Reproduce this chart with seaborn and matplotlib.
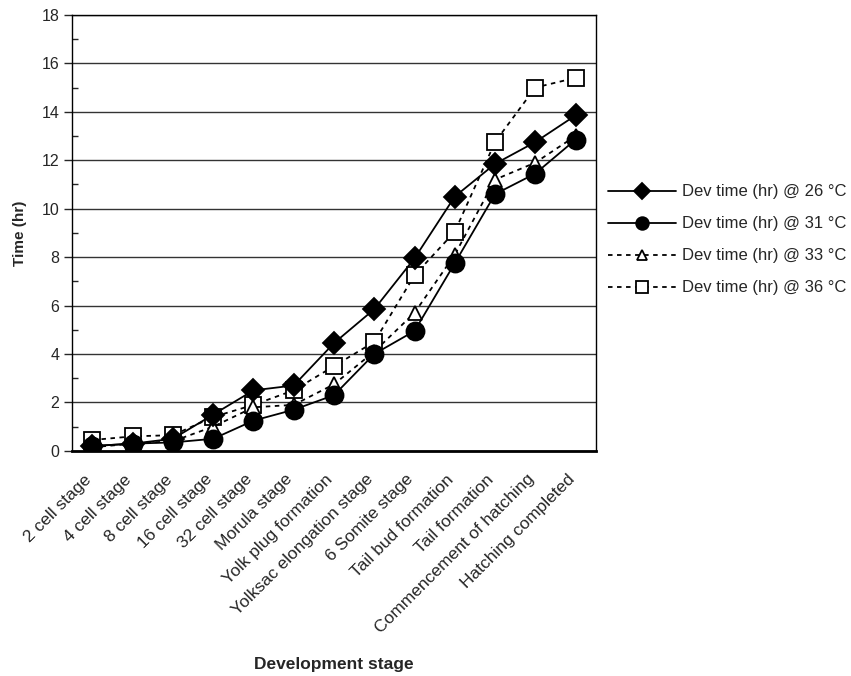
import numpy as np
import pandas as pd
import matplotlib
matplotlib.use("Agg")
import matplotlib.pyplot as plt
import seaborn as sns

stages = ['2 cell stage', '4 cell stage', '8 cell stage', '16 cell stage', '32 cell stage',
          'Morula stage', 'Yolk plug formation', 'Yolksac elongation stage', '6 Somite stage',
          'Tail bud formation', 'Tail formation', 'Commencement of hatching', 'Hatching completed']

t26 = [0.2, 0.3, 0.5, 1.5, 2.5, 2.7, 4.45, 5.85, 7.95, 10.5, 11.85, 12.75, 13.85]
t31 = [0.2, 0.3, 0.35, 0.5, 1.25, 1.7, 2.3, 4.0, 4.95, 7.75, 10.6, 11.45, 12.85]
t33 = [0.15, 0.3, 0.4, 1.0, 1.8, 1.9, 2.75, 4.1, 5.7, 8.1, 11.2, 11.9, 13.0]
t36 = [0.45, 0.6, 0.65, 1.4, 1.9, 2.5, 3.5, 4.5, 7.25, 9.05, 12.75, 15.0, 15.4]

names = ['Dev time (hr) @ 26 °C', 'Dev time (hr) @ 31 °C',
         'Dev time (hr) @ 33 °C', 'Dev time (hr) @ 36 °C']

df = pd.DataFrame({'pos': list(range(len(stages))) * 4,
                   'time': t26 + t31 + t33 + t36,
                   'series': np.repeat(names, len(stages))})

sns.set_style('white')
plt.rcParams['font.family'] = ['Liberation Sans', 'DejaVu Sans']

fig = plt.figure(figsize=(8.51, 6.76), dpi=100)
ax = fig.add_axes([0.085, 0.333, 0.615, 0.645])

# circles on top, then diamonds, open markers behind
styles = {
    names[0]: dict(marker='D', ls='-', ms=11, mfc='black', z=7),
    names[1]: dict(marker='o', ls='-', ms=13, mfc='black', z=8),
    names[2]: dict(marker='^', ls=(0, (2.5, 2.5)), ms=10.5, mfc='white', z=6),
    names[3]: dict(marker='s', ls=(0, (2.5, 2.5)), ms=12, mfc='white', z=5),
}

for name in names:
    st = styles[name]
    sub = df[df.series == name]
    sns.lineplot(data=sub, x='pos', y='time', ax=ax, color='black', lw=1.3,
                 marker=st['marker'], markersize=st['ms'], markerfacecolor=st['mfc'],
                 markeredgecolor='black', markeredgewidth=1.3, linestyle=st['ls'],
                 label=name, sort=False, zorder=st['z'])

ax.set_xlim(-0.5, len(stages) - 0.5)
ax.set_ylim(0, 18)
ax.set_yticks(np.arange(0, 19, 2))
ax.set_yticks(np.arange(1, 18, 2), minor=True)
ax.yaxis.grid(True, which='major', color='#333333', lw=1.0)
ax.set_axisbelow(True)

ax.set_xticks(np.arange(-0.5, len(stages), 1))
ax.set_xticklabels([])
# labels sit a bit left of the category centre, like the original
ax.set_xticks(np.arange(len(stages)) - 0.22, minor=True)
ax.set_xticklabels(stages, minor=True, rotation=45, ha='right', rotation_mode='anchor', fontsize=12.5)
ax.tick_params(axis='x', which='minor', length=0, pad=15)
ax.tick_params(axis='x', which='major', length=5, direction='out', width=1)
ax.tick_params(axis='y', which='major', length=6, direction='out', width=1, labelsize=11.5, left=True)
ax.tick_params(axis='y', which='minor', length=4, direction='in', width=1, left=True)

for s in ax.spines.values():
    s.set_color('black')
    s.set_linewidth(1.0)
ax.spines['bottom'].set_linewidth(2.0)

ax.set_xlabel('Development stage', fontsize=12.5, fontweight='bold', labelpad=15)
ax.set_ylabel('Time (hr)', fontsize=11, fontweight='bold', labelpad=10)

ax.legend(loc='center left', bbox_to_anchor=(0.995, 0.484), frameon=False, fontsize=12,
          handlelength=4.1, labelspacing=1.02, markerscale=0.7, handletextpad=0.36)

fig.savefig('out.png', dpi=100)
